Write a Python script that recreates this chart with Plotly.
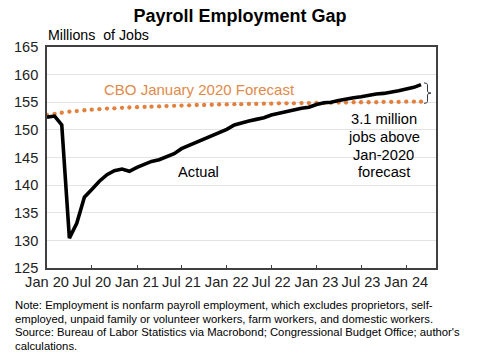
import plotly.graph_objects as go
import pandas as pd

# ---- data ----
months = pd.date_range("2020-01-01", "2024-03-01", freq="MS")
actual = [
    152.3, 152.5, 150.9, 130.4, 133.1, 137.8, 139.2, 140.7, 141.9, 142.6, 142.9, 142.5,
    143.2, 143.7, 144.3, 144.6, 145.1, 145.7, 146.6, 147.2, 147.7, 148.3, 148.9, 149.5,
    150.1, 150.9, 151.3, 151.6, 151.9, 152.2, 152.7, 153.0, 153.4, 153.7, 153.9, 154.1,
    154.6, 154.9, 155.0, 155.3, 155.6, 155.8, 156.0, 156.3, 156.5, 156.6, 156.8, 157.1,
    157.4, 157.7, 158.2,
]
cbo_forecast = [
    152.7, 152.9, 153.1, 153.3, 153.4, 153.55, 153.65, 153.75, 153.85, 153.9, 154.0, 154.05,
    154.1, 154.15, 154.2, 154.25, 154.3, 154.35, 154.4, 154.45, 154.5, 154.5, 154.55, 154.6,
    154.6, 154.65, 154.65, 154.7, 154.7, 154.75, 154.75, 154.8, 154.8, 154.8, 154.85, 154.85,
    154.9, 154.9, 154.9, 154.95, 154.95, 155.0, 155.0, 155.0, 155.0, 155.05, 155.05, 155.05,
    155.1, 155.1, 155.1,
]
tick_dates = ["2020-01-01", "2020-07-01", "2021-01-01", "2021-07-01", "2022-01-01",
              "2022-07-01", "2023-01-01", "2023-07-01", "2024-01-01"]
tick_labels = ["Jan 20", "Jul 20", "Jan 21", "Jul 21", "Jan 22",
               "Jul 22", "Jan 23", "Jul 23", "Jan 24"]
y_ticks = [125, 130, 135, 140, 145, 150, 155, 160, 165]
note_lines = [
    "Note: Employment is nonfarm payroll employment, which excludes proprietors, self-",
    "employed, unpaid family or volunteer workers, farm workers, and domestic workers.",
    "Source: Bureau of Labor Statistics via Macrobond; Congressional Budget Office; author's",
    "calculations.",
]

FONT = "Arial, Liberation Sans, sans-serif"
ORANGE = "#E3803D"

# layout geometry (pixels)
W, H = 480, 360
L, R, T, B = 47, 44, 47, 92
PW, PH = W - L - R, H - T - B


def px(x):
    return (x - L) / PW


def py(y):
    return (H - B - y) / PH


fig = go.Figure()
fig.add_trace(go.Scatter(
    x=months, y=cbo_forecast, mode="markers",
    marker=dict(color=ORANGE, size=4.3, line=dict(width=0)),
    hoverinfo="skip", showlegend=False,
))
fig.add_trace(go.Scatter(
    x=months, y=actual, mode="lines",
    line=dict(color="black", width=3.6),
    hoverinfo="skip", showlegend=False,
))

# bracket between last actual and last forecast
yt, yb = actual[-1] + 0.3, cbo_forecast[-1] - 0.3
ym = (yt + yb) / 2
d = 0.35
x0, xm, x1 = px(424), px(427.5), px(431)
path = (f"M {x0},{yt} Q {xm},{yt} {xm},{yt - d} L {xm},{ym + d} "
        f"Q {xm},{ym} {x1},{ym} Q {xm},{ym} {xm},{ym - d} "
        f"L {xm},{yb + d} Q {xm},{yb} {x0},{yb}")
fig.add_shape(type="path", path=path, xref="paper", yref="y",
              line=dict(color="#2f3640", width=1))

ann = []
ann.append(dict(text="CBO January 2020 Forecast", x=px(199), y=py(89.5),
                font=dict(size=15, color="#E08A4A")))
ann.append(dict(text="Actual", x=px(198.5), y=py(171.5),
                font=dict(size=14.7, color="black")))
gap = round(actual[-1] - cbo_forecast[-1], 1)
gap_lines = [f"{gap} million", "jobs above", "Jan-2020", "forecast"]
for i, t in enumerate(gap_lines):
    ann.append(dict(text=t, x=px(383.5), y=py(119.5 + 17.5 * i),
                    font=dict(size=14.7, color="black")))
ann.append(dict(text="Millions\u00a0 of Jobs", x=px(45.5), y=py(35.5), xanchor="left",
                font=dict(size=14.2, color="black")))
for i, t in enumerate(note_lines):
    ann.append(dict(text=t, x=px(13), y=py(305 + 13.6 * i), xanchor="left",
                    align="left", font=dict(size=11.3, color="black")))
annotations = []
for a in ann:
    base = dict(xref="paper", yref="paper", showarrow=False, xanchor="center",
                yanchor="middle", align="center")
    base.update(a)
    annotations.append(base)

fig.update_layout(
    width=W, height=H,
    margin=dict(l=L, r=R, t=T, b=B),
    paper_bgcolor="white", plot_bgcolor="white",
    font=dict(family=FONT, color="#222222"),
    title=dict(text="<b>Payroll Employment Gap</b>", x=0.5, xanchor="center",
               y=1 - 16 / H, yanchor="middle", font=dict(size=18, color="black")),
    annotations=annotations,
    xaxis=dict(range=["2020-01-01", "2024-05-01"], tickvals=tick_dates, ticktext=tick_labels,
               ticks="inside", ticklen=3, tickcolor="#404040", tickwidth=1,
               showgrid=False, showline=True, linecolor="#404040", linewidth=1.5,
               mirror=True, tickfont=dict(size=14.6, color="#222222"),
               ticklabelstandoff=0, zeroline=False, fixedrange=True),
    yaxis=dict(range=[125, 165], tickvals=y_ticks, showgrid=True, gridcolor="#E3E3E3",
               gridwidth=1, ticks="", showline=True, linecolor="#404040", linewidth=1.5,
               mirror=True, tickfont=dict(size=14.6, color="#222222"),
               ticklabelstandoff=4, zeroline=False, fixedrange=True),
)

fig.write_html("out.html", config={"displayModeBar": False},
               post_script="document.body.style.margin='0';")
